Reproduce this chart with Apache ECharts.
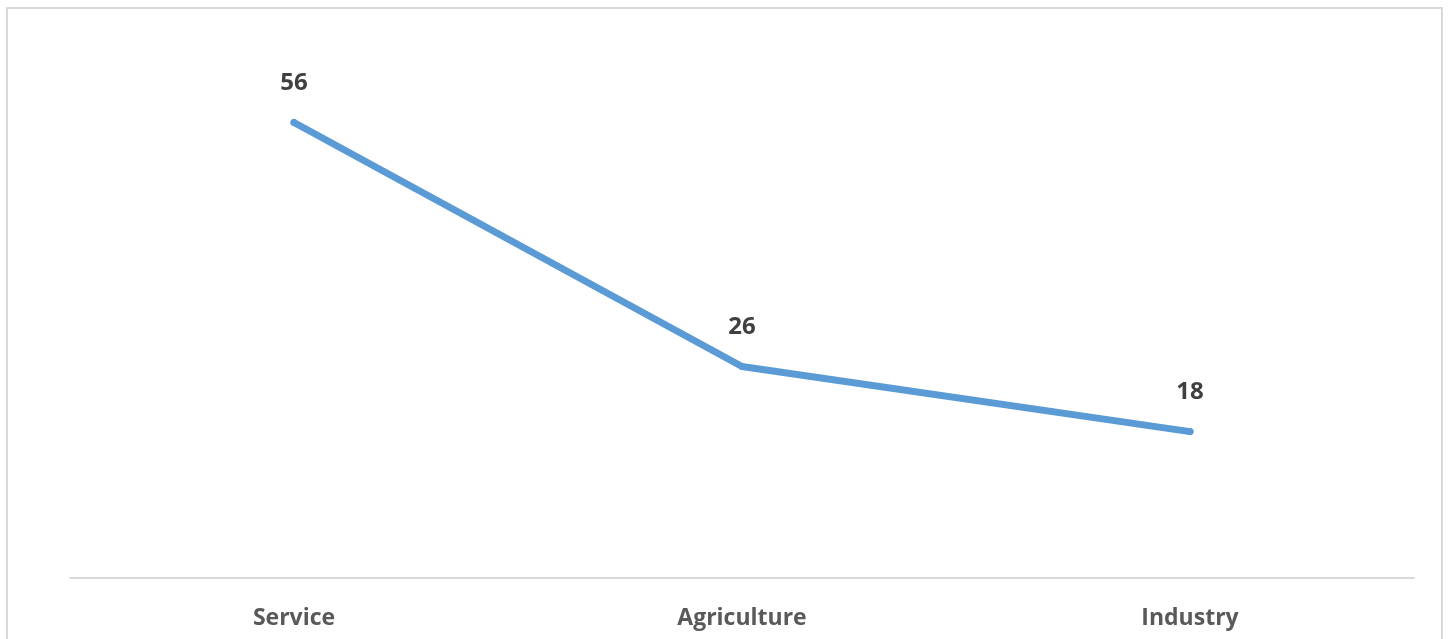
<!DOCTYPE html>
<html>
<head>
<meta charset="utf-8">
<script src="https://cdn.jsdelivr.net/npm/echarts@6/dist/echarts.min.js"></script>
<style>
  html, body { margin: 0; padding: 0; background: #ffffff; }
  #chart { width: 1450px; height: 639px; }
</style>
</head>
<body>
<div id="chart"></div>
<script>
// Employment share by sector
const categories = ['Service', 'Agriculture', 'Industry'];
const shares = [56, 26, 18];

const chart = echarts.init(document.getElementById('chart'), null, { renderer: 'canvas' });

chart.setOption({
  animation: false,
  backgroundColor: '#ffffff',
  graphic: [{
    type: 'rect',
    shape: { x: 7, y: 8, width: 1435, height: 700 },
    style: { fill: 'none', stroke: '#d9d9d9', lineWidth: 2 },
    silent: true,
    z: -1
  }],
  grid: { left: 70, right: 36, top: 90, bottom: 61, containLabel: false },
  xAxis: {
    type: 'category',
    data: categories,
    boundaryGap: true,
    axisLine: { show: true, lineStyle: { color: '#d9d9d9', width: 2 } },
    axisTick: { show: false },
    axisLabel: {
      color: '#595959',
      fontFamily: 'Open Sans, Lato, sans-serif',
      fontWeight: 'bold',
      fontSize: 23,
      margin: 29
    }
  },
  yAxis: {
    type: 'value',
    min: 0,
    max: 60,
    show: false,
    splitLine: { show: false }
  },
  series: [{
    type: 'line',
    data: shares,
    symbol: 'circle',
    symbolSize: 7,
    showSymbol: true,
    itemStyle: { color: '#5b9bd5' },
    lineStyle: { color: '#5b9bd5', width: 7, cap: 'round', join: 'round' },
    label: {
      show: true,
      position: 'top',
      distance: 24,
      color: '#404040',
      fontFamily: 'Open Sans, Lato, sans-serif',
      fontWeight: 'bold',
      fontSize: 24
    }
  }]
});
</script>
</body>
</html>
